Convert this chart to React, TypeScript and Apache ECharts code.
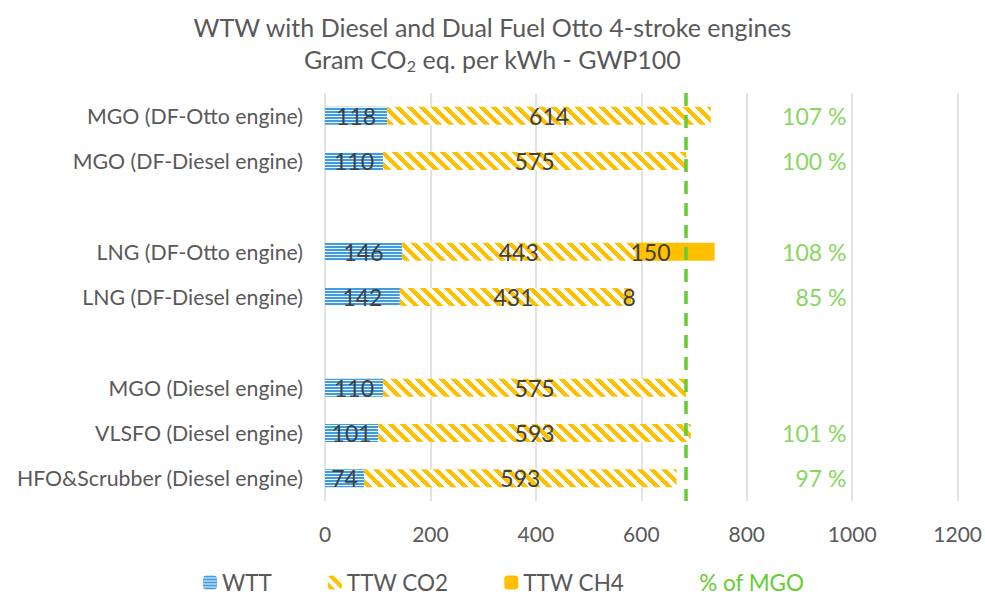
import React, { useEffect, useRef } from 'react';
import * as echarts from 'echarts';

const categories = [
  'MGO (DF-Otto engine)',
  'MGO (DF-Diesel engine)',
  '',
  'LNG (DF-Otto engine)',
  'LNG (DF-Diesel engine)',
  ' ',
  'MGO (Diesel engine)',
  'VLSFO (Diesel engine)',
  'HFO&Scrubber (Diesel engine)',
];
const wtt = [118, 110, null, 146, 142, null, 110, 101, 74];
const ttwCo2 = [614, 575, null, 443, 431, null, 575, 593, 593];
const ttwCh4 = [null, null, null, 150, 8, null, null, null, null];
const pctOfMgo = [107, 100, null, 108, 85, null, null, 101, 97];
const mgoReference = 685;
const xMin = 0;
const xMax = 1200;
const xInterval = 200;
const pctAnchor = 990;

const FONT = 'Lato, "Open Sans", sans-serif';
const GREY = '#595959';
const DARK = '#404040';
const GREEN = '#66CC33';
const YELLOW = '#FFC000';

function makePattern(w: number, h: number, fn: (x: number, y: number) => number[]) {
  const c = document.createElement('canvas');
  c.width = w;
  c.height = h;
  const ctx = c.getContext('2d')!;
  const img = ctx.createImageData(w, h);
  for (let y = 0; y < h; y++) {
    for (let x = 0; x < w; x++) {
      const [r, g, b] = fn(x, y);
      const i = (y * w + x) * 4;
      img.data[i] = r;
      img.data[i + 1] = g;
      img.data[i + 2] = b;
      img.data[i + 3] = 255;
    }
  }
  ctx.putImageData(img, 0, 0);
  return { image: c.toDataURL(), repeat: 'repeat', imageWidth: w, imageHeight: h } as any;
}

export default function App() {
  const ref = useRef<HTMLDivElement>(null);
  useEffect(() => {
    document.body.style.margin = '0';
    if (!ref.current) return;
    const chart = echarts.init(ref.current, null, { renderer: 'svg' });

    const wttPattern = makePattern(4, 3, (_x, y) => (y < 2 ? [66, 155, 222] : [235, 245, 252]));
    const co2Pattern = makePattern(12, 12, (x, y) => {
      const d = (((x - y) % 12) + 12) % 12;
      return d < 6 ? [255, 192, 0] : [255, 255, 255];
    });

    const labelBase = {
      show: true,
      position: 'inside',
      color: DARK,
      fontSize: 23,
      fontFamily: FONT,
      textBorderWidth: 0,
    };

    const pctData = pctOfMgo
      .map((p, i) => (p == null ? null : [pctAnchor, i, p]))
      .filter((d) => d != null);

    chart.setOption({
      animation: false,
      backgroundColor: '#ffffff',
      title: {
        left: 'center',
        top: 6,
        text: 'WTW with Diesel and Dual Fuel Otto 4-stroke engines\nGram CO{sub|2} eq. per kWh - GWP100',
        textStyle: {
          color: GREY,
          fontSize: 25,
          fontWeight: 'normal',
          fontFamily: FONT,
          lineHeight: 32,
          rich: {
            sub: {
              fontSize: 16,
              color: GREY,
              fontFamily: FONT,
              padding: [12, 0, 0, 0],
              lineHeight: 32,
            },
          },
        },
      },
      grid: { left: 325, right: 27, top: 93, bottom: 96 },
      legend: {
        left: 198,
        top: 566,
        itemWidth: 14,
        itemHeight: 14,
        itemGap: 56,
        textStyle: { color: GREY, fontSize: 22.5, fontFamily: FONT },
        data: [
          { name: 'WTT' },
          { name: 'TTW CO2' },
          { name: 'TTW CH4' },
          { name: '% of MGO', icon: 'none', textStyle: { color: GREEN } },
        ],
      },
      xAxis: {
        type: 'value',
        min: xMin,
        max: xMax,
        interval: xInterval,
        axisLine: { show: false },
        axisTick: { show: false },
        splitLine: { lineStyle: { color: '#d9d9d9', width: 1.5 } },
        axisLabel: {
          color: GREY,
          fontSize: 21,
          fontFamily: FONT,
          margin: 22,
          formatter: (v: number) => String(v),
        },
      },
      yAxis: {
        type: 'category',
        inverse: true,
        data: categories,
        axisLine: { show: false },
        axisTick: { show: false },
        axisLabel: { color: GREY, fontSize: 21.3, fontFamily: FONT, margin: 22 },
      },
      series: [
        {
          name: 'WTT',
          type: 'bar',
          stack: 'total',
          barWidth: 18,
          data: wtt,
          itemStyle: { color: wttPattern },
          label: labelBase,
          markLine: {
            silent: true,
            symbol: 'none',
            label: { show: false },
            lineStyle: { color: GREEN, type: [13, 9], width: 3.5 },
            data: [{ xAxis: mgoReference }],
          },
        },
        {
          name: 'TTW CO2',
          type: 'bar',
          stack: 'total',
          barWidth: 18,
          data: ttwCo2,
          itemStyle: { color: co2Pattern },
          label: labelBase,
        },
        {
          name: 'TTW CH4',
          type: 'bar',
          stack: 'total',
          barWidth: 18,
          data: ttwCh4.map((v) =>
            v != null && v > 50
              ? { value: v, label: { position: 'insideLeft', offset: [-10, 0] } }
              : v
          ),
          itemStyle: { color: YELLOW },
          label: labelBase,
        },
        {
          name: '% of MGO',
          type: 'scatter',
          data: pctData,
          symbolSize: 1,
          itemStyle: { color: 'rgba(0,0,0,0)' },
          label: {
            show: true,
            position: 'left',
            distance: 0,
            color: GREEN,
            fontSize: 23,
            fontFamily: FONT,
            formatter: (p: any) => p.value[2] + ' %',
          },
        },
      ],
    });
    return () => chart.dispose();
  }, []);
  return <div ref={ref} style={{ width: 985, height: 597 }} />;
}
